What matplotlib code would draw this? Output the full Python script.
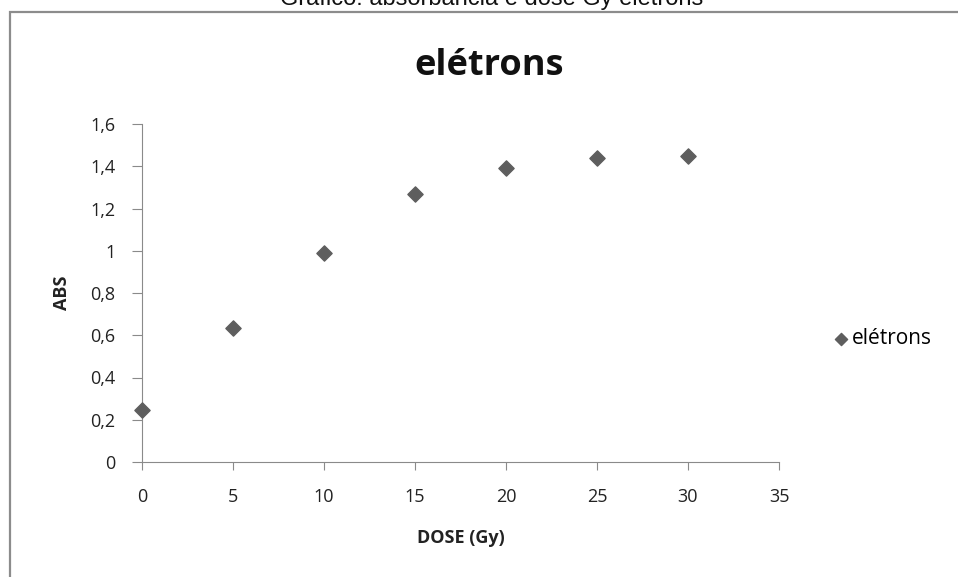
import matplotlib.pyplot as plt
from matplotlib.patches import Rectangle

# data
dose = [0, 5, 10, 15, 20, 25, 30]
abs_vals = [0.245, 0.633, 0.987, 1.268, 1.391, 1.438, 1.449]
x_ticks = [0, 5, 10, 15, 20, 25, 30, 35]
y_ticks = [0, 0.2, 0.4, 0.6, 0.8, 1.0, 1.2, 1.4, 1.6]
y_labels = ['0', '0,2', '0,4', '0,6', '0,8', '1', '1,2', '1,4', '1,6']

plt.rcParams['font.family'] = ['Open Sans', 'DejaVu Sans']

W, H = 958, 577
fig = plt.figure(figsize=(W / 100, H / 100), dpi=100)

# outer chart frame (runs off the right and bottom edges) and cropped caption
fig.patches.append(Rectangle((10 / W, -0.05), 1.0, 1.05 - 12 / H,
                             transform=fig.transFigure, fill=False,
                             edgecolor='#8c8c8c', linewidth=1.6))
fig.text(492 / W, 1 - 5 / H, 'Gráfico: absorbância e dose Gy elétrons',
         ha='center', va='baseline', fontsize=17, family='Liberation Sans',
         color='#111111')

ax = fig.add_axes([142 / W, 1 - 462 / H, 637 / W, 338 / H])
ax.scatter(dose, abs_vals, marker='D', s=60, color='#5e5e5e', zorder=3,
           clip_on=False, label='elétrons')

ax.set_xlim(0, 35)
ax.set_ylim(0, 1.6)
ax.set_xticks(x_ticks)
ax.set_yticks(y_ticks)
ax.set_yticklabels(y_labels)

for s in ['top', 'right']:
    ax.spines[s].set_visible(False)
for s in ['left', 'bottom']:
    ax.spines[s].set_color('#8a8a8a')
ax.tick_params(direction='out', color='#8a8a8a', labelsize=13, labelcolor='#222222')
ax.tick_params(axis='x', length=6, pad=13)
ax.tick_params(axis='y', length=7, pad=12)

ax.set_xlabel('DOSE (Gy)', fontsize=13, fontweight='bold', labelpad=16, color='#222222')
ax.set_ylabel('ABS', fontsize=13, fontweight='bold', labelpad=14, color='#222222')

fig.text(489 / W, 1 - 75 / H, 'elétrons', ha='center', va='baseline',
         fontsize=26, fontweight='bold', color='#111111')

fig.legend(loc='center left', bbox_to_anchor=(835 / W, 1 - 339 / H),
           bbox_transform=fig.transFigure, frameon=False, fontsize=15,
           handlelength=0.6, handletextpad=0.22, borderpad=0, borderaxespad=0,
           markerscale=0.8)

fig.savefig('out.png', dpi=100)
